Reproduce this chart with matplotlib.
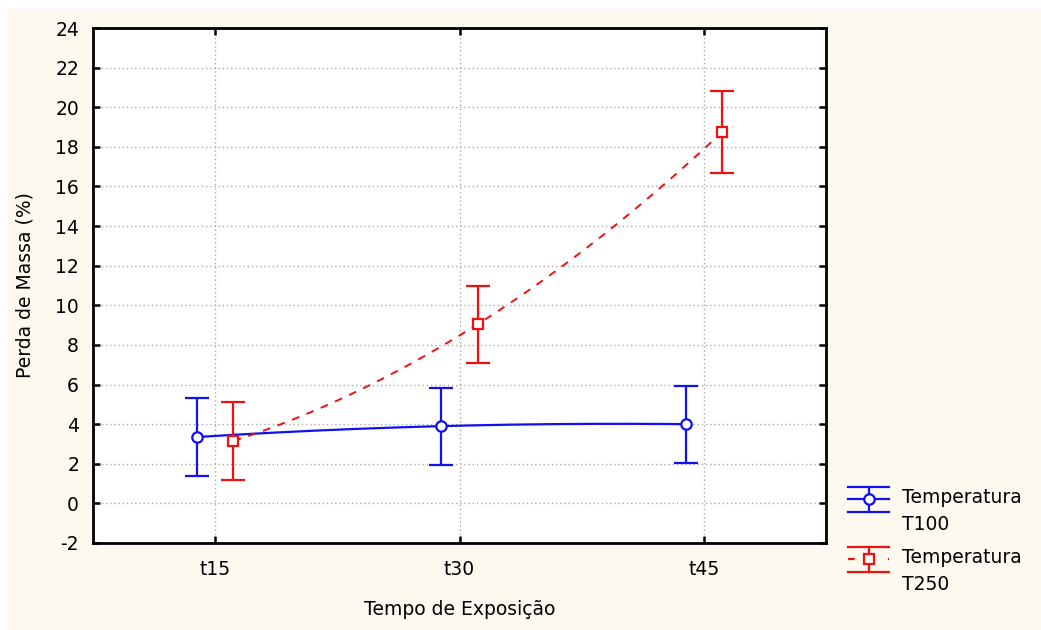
import numpy as np
import matplotlib
matplotlib.use("Agg")
import matplotlib.pyplot as plt
from matplotlib.patches import Rectangle
from matplotlib.lines import Line2D

# ------------------------------------------------------------
# Dados
# ------------------------------------------------------------
categorias = ["t15", "t30", "t45"]

t100_media = [3.35, 3.9, 4.0]
t100_erro = [1.95, 1.95, 1.95]

t250_media = [3.15, 9.05, 18.75]
t250_erro = [1.95, 1.95, 2.05]

y_ticks = list(range(-2, 25, 2))

CREME = "#FEF9EE"
AZUL = "#1010F0"
VERMELHO = "#F01010"
FS = 13.5

W, H = 1041, 630

plt.rcParams["axes.unicode_minus"] = False

fig = plt.figure(figsize=(W / 100, H / 100), dpi=100, facecolor="white")
fig.patches.append(Rectangle((8 / W, 0), 1, 1 - 9 / H, transform=fig.transFigure,
                             facecolor=CREME, edgecolor="none", zorder=-10))

ax = fig.add_axes([93 / W, 1 - 543 / H, (826 - 93) / W, (543 - 28) / H])
ax.set_facecolor("white")

x = np.arange(len(categorias))
desloc = 0.075


def curva(xp, yp):
    # curva suave (quadrática) pelas médias
    coef = np.polyfit(xp, yp, 2)
    xs = np.linspace(xp[0], xp[-1], 200)
    return xs, np.polyval(coef, xs)


# T100 — azul, linha contínua
xb = x - desloc
xs, ys = curva(xb, t100_media)
ax.plot(xs, ys, color=AZUL, lw=1.6, zorder=3)
ax.errorbar(xb, t100_media, yerr=t100_erro, fmt="o", color=AZUL,
            mfc="white", mec=AZUL, ms=7.5, mew=1.6, elinewidth=1.6,
            capsize=8.8, capthick=1.6, zorder=4)

# T250 — vermelho, linha tracejada
xr = x + desloc
xs, ys = curva(xr, t250_media)
ax.plot(xs, ys, color=VERMELHO, lw=1.4, ls=(0, (4, 4)), zorder=3)
ax.errorbar(xr, t250_media, yerr=t250_erro, fmt="s", color=VERMELHO,
            mfc="white", mec=VERMELHO, ms=7.5, mew=1.6, elinewidth=1.6,
            capsize=8.8, capthick=1.6, zorder=4)

ax.set_xlim(-0.5, 2.5)
ax.set_ylim(-2, 24)
ax.set_xticks(x)
ax.set_xticklabels(categorias)
ax.set_yticks(y_ticks)
ax.grid(True, color="#AAAAAA", linestyle=(0, (1, 2)), linewidth=1.0)
ax.set_axisbelow(True)

for s in ax.spines.values():
    s.set_linewidth(2)
    s.set_color("black")

ax.tick_params(axis="both", direction="in", length=5, width=1.8,
               labelsize=FS, colors="black")
ax.tick_params(axis="y", right=True, pad=10)
ax.tick_params(axis="x", top=True, pad=12)

ax.set_xlabel("Tempo de Exposição", fontsize=FS)
ax.set_ylabel("Perda de Massa (%)", fontsize=FS)
ax.xaxis.set_label_coords(0.5, (543 - 600) / 515)
ax.yaxis.set_label_coords((35 - 93) / 733, 0.5)


# ------------------------------------------------------------
# Legenda (fora do eixo, estilo Statistica)
# ------------------------------------------------------------
def px(xp, yp):
    return xp / W, 1 - yp / H


def entrada_legenda(y0, cor, marcador, estilo, rotulo):
    x_esq, x_dir, x_mid = 848, 889, 869
    topo, base = y0 - 12, y0 + 13
    for yy in (topo, base):
        (a, b), (c, d) = px(x_esq, yy), px(x_dir, yy)
        fig.add_artist(Line2D([a, c], [b, d], color=cor, lw=1.6, transform=fig.transFigure))
    (a, b), (c, d) = px(x_mid, topo), px(x_mid, base)
    fig.add_artist(Line2D([a, c], [b, d], color=cor, lw=1.6, transform=fig.transFigure))
    (a, b), (c, d) = px(x_esq, y0), px(x_dir, y0)
    fig.add_artist(Line2D([a, c], [b, d], color=cor, lw=1.6, ls=estilo,
                          transform=fig.transFigure))
    a, b = px(x_mid, y0)
    fig.add_artist(Line2D([a], [b], color=cor, marker=marcador, ms=7.5, mew=1.6,
                          mfc="white", mec=cor, transform=fig.transFigure))
    tx, ty = px(902, y0 - 11)
    fig.text(tx, ty, rotulo, fontsize=FS, va="top", ha="left", linespacing=1.5)


entrada_legenda(499, AZUL, "o", "-", "Temperatura\nT100")
entrada_legenda(559, VERMELHO, "s", (0, (3, 6)), "Temperatura\nT250")

fig.savefig("out.png", dpi=100, facecolor=fig.get_facecolor())
